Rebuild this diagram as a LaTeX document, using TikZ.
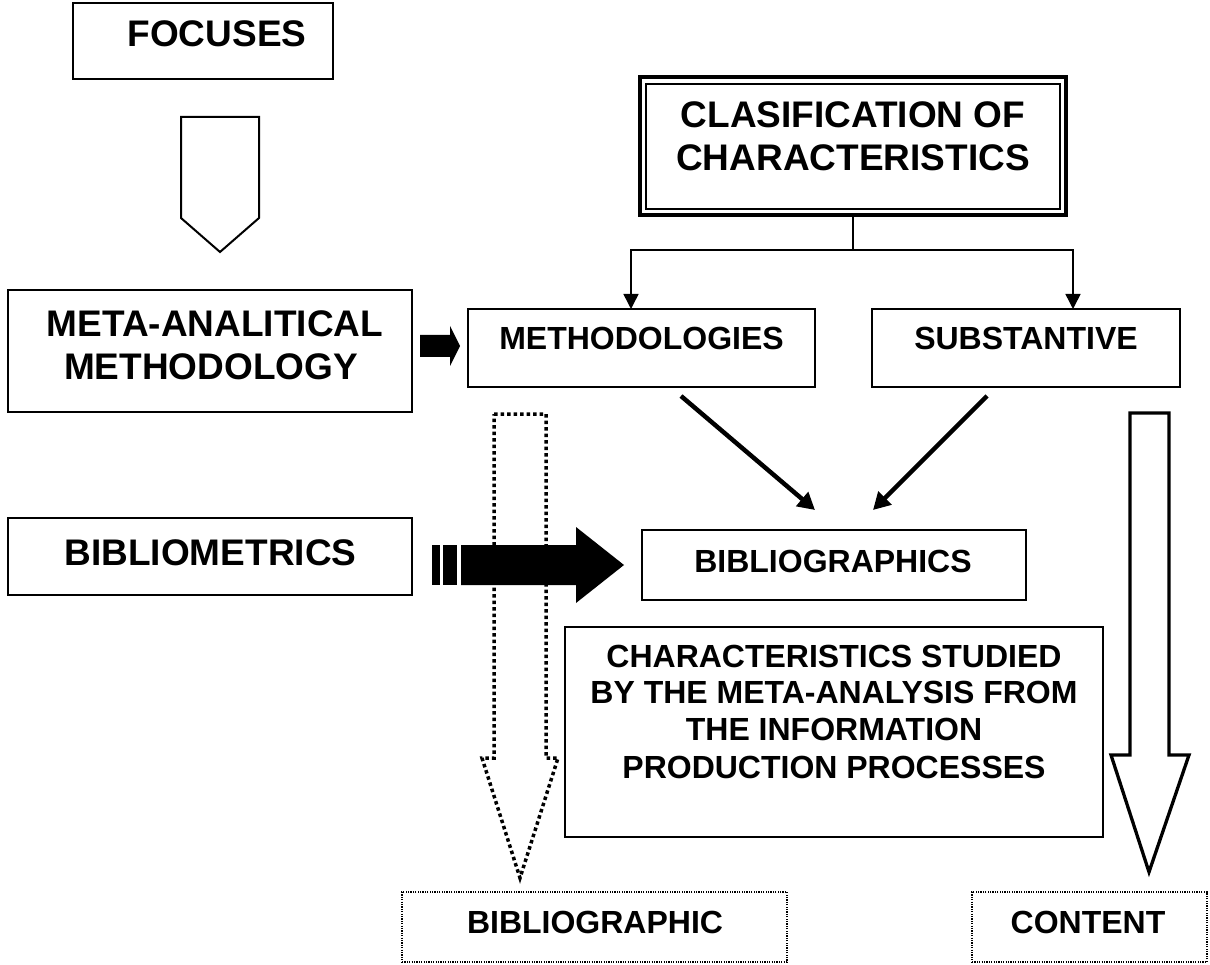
\documentclass[tikz,border=0pt]{standalone}
\usepackage{fontspec}
\setmainfont{Liberation Sans}
\usetikzlibrary{arrows.meta,calc}
\begin{document}
\begin{tikzpicture}[x=1pt,y=-1pt,
  box/.style={draw, line width=1.6pt, inner sep=0pt, outer sep=0pt, rectangle},
  dotbox/.style={draw, line width=1.5pt, dash pattern=on 1.2pt off 1.2pt, inner sep=0pt, outer sep=0pt, rectangle},
  bigtxt/.style={font=\fontsize{37}{43}\selectfont\bfseries, inner sep=0pt, anchor=base},
  smalltxt/.style={font=\fontsize{32}{37}\selectfont\bfseries, inner sep=0pt, anchor=base},
  treearrow/.style={line width=1.5pt, -{Triangle[length=15pt,width=15pt]}},
  diagarrow/.style={line width=4.5pt, -{Triangle[length=17pt,width=18pt]}},
  hollowblock/.style={draw, line width=2pt, fill=white, line join=miter},
  solidblock/.style={fill=black, draw=none},
  dottedblock/.style={draw, line width=3.5pt, dash pattern=on 3.5pt off 3pt},
]
\useasboundingbox (0,0) rectangle (1210,965);

% boxes
\node[box, minimum width=260pt, minimum height=76pt] (focuses) at (203,41) {};
\node[bigtxt] (focusesT) at (217,47) {FOCUSES};

\node[box, line width=3.5pt, minimum width=426pt, minimum height=138pt] (clas) at (853,146) {};
\draw[line width=2pt] ($(clas.north west)+(6,7)$) rectangle ($(clas.south east)+(-6,-6)$);
\node[bigtxt] (clasT1) at (853,128) {CLASIFICATION OF};
\node[bigtxt] (clasT2) at (853,171) {CHARACTERISTICS};

\node[box, minimum width=404pt, minimum height=122pt] (meta) at (210,351) {};
\node[bigtxt] (metaT1) at (215,337) {META-ANALITICAL};
\node[bigtxt] (metaT2) at (211,380) {METHODOLOGY};

\node[box, minimum width=347pt, minimum height=78pt] (meth) at (641.5,348) {};
\node[smalltxt] (methT) at (641.5,350) {METHODOLOGIES};

\node[box, minimum width=308pt, minimum height=78pt] (subst) at (1026,348) {};
\node[smalltxt] (substT) at (1026,350) {SUBSTANTIVE};

\node[box, minimum width=404pt, minimum height=77pt] (bibm) at (210,556.5) {};
\node[bigtxt] (bibmT) at (210.5,565) {BIBLIOMETRICS};

\node[box, minimum width=384pt, minimum height=70pt] (bibs) at (834,565) {};
\node[smalltxt] (bibsT) at (833,572) {BIBLIOGRAPHICS};

\node[box, minimum width=538pt, minimum height=210pt] (charbox) at (834,732) {};
\node[smalltxt] (charT1) at (834,667) {CHARACTERISTICS STUDIED};
\node[smalltxt] (charT2) at (834,703) {BY THE META-ANALYSIS FROM};
\node[smalltxt] (charT3) at (834,740) {THE INFORMATION};
\node[smalltxt] (charT4) at (834,778) {PRODUCTION PROCESSES};

\node[dotbox, minimum width=385pt, minimum height=70pt] (bibc) at (594.5,927) {};
\node[smalltxt] (bibcT) at (595,933) {BIBLIOGRAPHIC};

\node[dotbox, minimum width=235pt, minimum height=70pt] (content) at (1089.5,927) {};
\node[smalltxt] (contentT) at (1088,933) {CONTENT};

% tree connector
\draw[line width=1.5pt] (clas.south) -- ++(0,35) coordinate (junction);
\draw[treearrow] (junction) -| ($(meth.north)+(-10.5,0)$);
\draw[treearrow] (junction) -| ($(subst.north)+(47,0)$);

% diagonal arrows
\coordinate (d1s) at (681,396);
\coordinate (d1e) at (815,510);
\coordinate (d2s) at (987,396);
\coordinate (d2e) at (873,510);
\draw[diagarrow] (d1s) -- (d1e);
\draw[diagarrow] (d2s) -- (d2e);

% hollow pentagon arrow under FOCUSES
\draw[hollowblock] (181,117) -- (259,117) -- (259,218) -- (220,252) -- (181,218) -- cycle;

% small black arrow
\fill[solidblock] (420,335) -- (450,335) -- (450,326) -- (460,346) -- (450,366) -- (450,357) -- (420,357) -- cycle;

% dotted hollow arrow
\draw[dottedblock] (494,414) -- (546,414) -- (546,758) -- (558,758) -- (520,878) -- (482,758) -- (494,758) -- cycle;

% big black striped arrow
\fill[solidblock] (432,545) rectangle (440,585);
\fill[solidblock] (443,545) rectangle (457,585);
\fill[solidblock] (461,545) -- (576,545) -- (576,527) -- (624,565) -- (576,603) -- (576,585) -- (461,585) -- cycle;

% content hollow arrow
\draw[hollowblock, line width=3.3pt] (1130,413) -- (1169,413) -- (1169,755) -- (1189,755) -- (1149,872) -- (1111,755) -- (1130,755) -- cycle;
\end{tikzpicture}
\end{document}
